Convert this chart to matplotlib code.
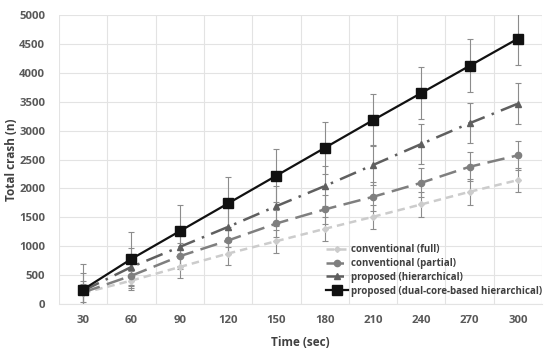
import matplotlib.pyplot as plt
import numpy as np

plt.rcParams['font.family'] = ['Open Sans', 'DejaVu Sans']

times = [30, 60, 90, 120, 150, 180, 210, 240, 270, 300]

full = [190, 405, 640, 873, 1087, 1300, 1508, 1723, 1941, 2144]
partial = [200, 490, 827, 1099, 1393, 1636, 1854, 2097, 2374, 2572]
hier = [230, 641, 988, 1334, 1693, 2040, 2404, 2768, 3127, 3466]
dual = [250, 780, 1260, 1740, 2220, 2700, 3180, 3650, 4120, 4590]

full_err = [150, 170, 190, 200, 200, 210, 210, 215, 220, 210]
partial_err = [200, 220, 230, 240, 240, 250, 250, 250, 250, 250]
hier_err = [300, 320, 330, 340, 340, 350, 350, 350, 350, 350]
dual_err = [450, 460, 450, 460, 460, 450, 450, 455, 460, 450]

fig = plt.figure(figsize=(5.5, 3.52), dpi=100)
ax = fig.add_axes([59/550, 48/352, 483/550, 289/352])

x = np.arange(len(times))

series = [
    ("conventional (full)", full, full_err, "#cccccc", (0, (3, 2)), "D", 3, 1.8),
    ("conventional (partial)", partial, partial_err, "#7f7f7f", (0, (7, 3)), "o", 4.5, 1.8),
    ("proposed (hierarchical)", hier, hier_err, "#5f5f5f", (0, (7, 3, 1, 3)), "^", 4.5, 1.8),
    ("proposed (dual-core-based hierarchical)", dual, dual_err, "#111111", "-", "s", 6.5, 1.6),
]

for label, vals, err, col, ls, mk, ms, lw in series:
    ax.errorbar(x, vals, yerr=err, fmt="none", ecolor="#8c8c8c", elinewidth=0.8,
                capsize=2.5, capthick=0.8, zorder=2)
    ax.plot(x, vals, color=col, linestyle=ls, marker=mk, markersize=ms,
            linewidth=lw, label=label, zorder=3)

ax.set_xlim(-0.5, len(times) - 0.5)
ax.set_ylim(0, 5000)
ax.set_yticks(range(0, 5001, 500))
ax.set_xticks(x)
ax.set_xticklabels([str(t) for t in times])
ax.set_xticks(np.arange(-0.5, len(times), 1), minor=True)
ax.grid(False)
ax.grid(True, which="minor", axis="x", color="#e3e3e3", linewidth=0.8)
ax.grid(True, which="major", axis="y", color="#e3e3e3", linewidth=0.8)
ax.set_axisbelow(True)
ax.tick_params(axis="both", which="both", length=0, colors="#595959", labelsize=8.2)
ax.tick_params(axis="x", pad=8)
ax.tick_params(axis="y", pad=10)
for lab in ax.get_xticklabels() + ax.get_yticklabels():
    lab.set_fontweight("bold")
for s in ["top", "right", "left"]:
    ax.spines[s].set_visible(False)
ax.spines["bottom"].set_color("#e3e3e3")

ax.set_xlabel("Time (sec)", fontsize=8.5, fontweight="bold", color="#404040", labelpad=7)
ax.set_ylabel("Total crash (n)", fontsize=8.5, fontweight="bold", color="#404040")
ax.yaxis.set_label_coords((18 - 59) / 483, 0.5)

leg = ax.legend(loc="lower right", frameon=False, fontsize=7, handlelength=2.3,
                handletextpad=0.3, labelspacing=0.3, borderaxespad=0,
                borderpad=0, bbox_to_anchor=(1.0, 0.025))
for t in leg.get_texts():
    t.set_fontweight("bold")
    t.set_color("#404040")

fig.savefig("out.png", dpi=100)
